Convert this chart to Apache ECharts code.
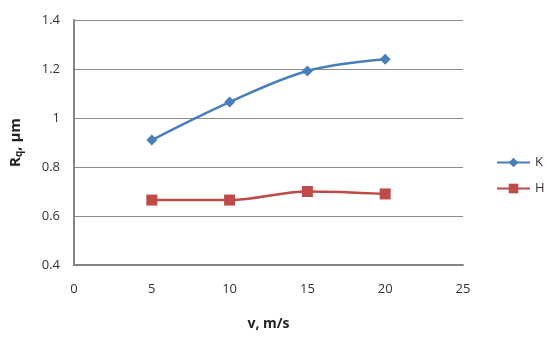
<!DOCTYPE html>
<html><head><meta charset="utf-8">
<script src="https://cdn.jsdelivr.net/npm/echarts@6/dist/echarts.min.js"></script>
<style>html,body{margin:0;padding:0;background:#fff}#c{width:550px;height:342px}</style>
</head><body><div id="c"></div>
<script>
const xValues = [5, 10, 15, 20];
const seriesK = [0.91, 1.065, 1.192, 1.24];
const seriesH = [0.665, 0.665, 0.70, 0.69];
const seriesNames = ['K', 'H'];

const chart = echarts.init(document.getElementById('c'));
const font = 'Open Sans';
chart.setOption({
  animation: false,
  backgroundColor: '#fff',
  textStyle: { fontFamily: font },
  grid: { left: 74, right: 87, top: 20, bottom: 77 },
  legend: {
    orient: 'vertical', left: 491, top: 151, itemGap: 13,
    itemWidth: 33, itemHeight: 12,
    textStyle: { fontFamily: font, fontSize: 13, color: '#333' },
    data: seriesNames
  },
  xAxis: {
    type: 'value', min: 0, max: 25, interval: 5,
    axisLine: { show: true, lineStyle: { color: '#868686', width: 2 } },
    axisTick: { show: false },
    splitLine: { show: false },
    axisLabel: { color: '#333', fontSize: 13, margin: 18, fontFamily: font },
    name: 'v, m/s', nameLocation: 'middle', nameGap: 52,
    nameTextStyle: { fontWeight: 'bold', fontSize: 14, color: '#222', fontFamily: font }
  },
  yAxis: {
    type: 'value', min: 0.4, max: 1.4, interval: 0.2,
    axisLine: { show: true, lineStyle: { color: '#868686', width: 2 } },
    axisTick: { show: false },
    splitLine: { show: true, lineStyle: { color: '#8c8c8c', width: 1 } },
    axisLabel: { color: '#333', fontSize: 13, margin: 14, fontFamily: font,
      formatter: v => String(Math.round(v * 10) / 10) },
    name: '{a|R}{s|q}{a|, µm}', nameLocation: 'middle', nameGap: 50, nameRotate: 90,
    nameTextStyle: {
      rich: {
        a: { fontWeight: 'bold', fontSize: 15, color: '#222', fontFamily: font },
        s: { fontWeight: 'bold', fontSize: 10, color: '#222', fontFamily: font, verticalAlign: 'bottom', padding: [6, 0, 0, 0] }
      }
    }
  },
  series: [
    {
      name: 'K', type: 'line', smooth: 0.35,
      data: xValues.map((x, i) => [x, seriesK[i]]),
      symbol: 'diamond', symbolSize: 11,
      lineStyle: { color: '#4A7EBB', width: 2.5 },
      itemStyle: { color: '#4A7EBB' }
    },
    {
      name: 'H', type: 'line', smooth: 0.35,
      data: xValues.map((x, i) => [x, seriesH[i]]),
      symbol: 'rect', symbolSize: 11,
      lineStyle: { color: '#BE4B48', width: 2.5 },
      itemStyle: { color: '#BE4B48' }
    }
  ]
});
</script></body></html>
